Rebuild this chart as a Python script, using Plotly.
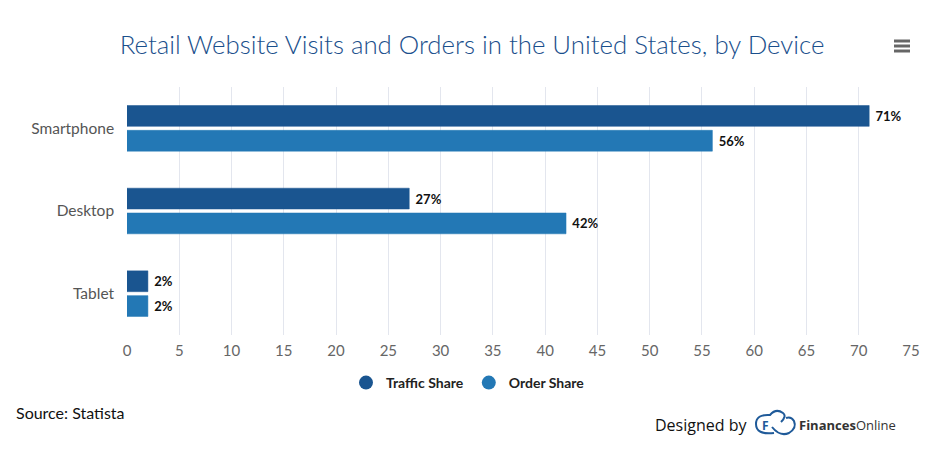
import plotly.graph_objects as go

devices = ["Smartphone", "Desktop", "Tablet"]
traffic_share = [71, 27, 2]
order_share = [56, 42, 2]
x_ticks = [0, 5, 10, 15, 20, 25, 30, 35, 40, 45, 50, 55, 60, 65, 70, 75]

dark_blue = "#1a5590"
light_blue = "#2378b5"
logo_blue = "#1f5a99"


def px(x):
    # pixel -> paper x
    return (x - 127) / 784


def py(y):
    # pixel -> paper y
    return (335 - y) / 248


fig = go.Figure()
for name, vals, col in [("Traffic Share", traffic_share, dark_blue),
                        ("Order Share", order_share, light_blue)]:
    fig.add_trace(go.Bar(
        y=devices, x=vals, name=name, orientation="h",
        marker=dict(color=col, line=dict(color=col, width=0.5)),
        texttemplate=" <b>%{x}%</b>", textposition="outside", constraintext="none",
        textfont=dict(family="Lato, Open Sans, sans-serif", size=13, color="#111"),
        cliponaxis=False, showlegend=False, hoverinfo="skip",
    ))
    # circle markers for the legend
    fig.add_trace(go.Scatter(
        x=[None], y=[None], mode="markers", name="<b>" + name + "</b>",
        marker=dict(symbol="circle", size=14, color=col),
    ))

fig.update_layout(
    width=944, height=452,
    margin=dict(l=127, r=33, t=87, b=117, autoexpand=False),
    paper_bgcolor="white", plot_bgcolor="white",
    barmode="group", bargap=0.40, bargroupgap=0.16,
    font=dict(family="Lato, Open Sans, sans-serif", color="#555"),
    title=dict(text="Retail Website Visits and Orders in the United States, by Device",
               x=0.5, xanchor="center", y=1 - 45 / 452, yanchor="middle",
               font=dict(family="Lato, Open Sans, sans-serif", size=25.8, weight=300,
                         color="#1a4f8c")),
    xaxis=dict(range=[0, 75], tickvals=x_ticks, showgrid=True, gridcolor="#e3e6ee",
               gridwidth=1, zeroline=False, showline=False, ticks="", automargin=False,
               ticklabelstandoff=5,
               tickfont=dict(family="Lato, Open Sans, sans-serif", size=15, color="#666")),
    yaxis=dict(autorange="reversed", showgrid=False, zeroline=False, ticks="",
               ticksuffix="   ", automargin=False,
               tickfont=dict(family="Lato, Open Sans, sans-serif", size=15.5, color="#555")),
    legend=dict(orientation="h", x=px(468), xanchor="center",
                yref="container", y=1 - 383 / 452, yanchor="middle",
                font=dict(family="Lato, Open Sans, sans-serif", size=14, color="#222"),
                traceorder="normal"),
    annotations=[
        dict(text="Source: Statista", xref="paper", yref="paper", x=px(14), y=py(412),
             xanchor="left", yanchor="middle", showarrow=False,
             font=dict(family="Lato, Open Sans, sans-serif", size=16, color="#111")),
        dict(text="Designed by", xref="paper", yref="paper", x=px(749), y=py(425),
             xanchor="right", yanchor="middle", showarrow=False,
             font=dict(family="Open Sans, sans-serif", size=16, color="#111")),
        dict(text="<b>Finances</b>Online", xref="paper", yref="paper", x=px(797), y=py(425),
             xanchor="left", yanchor="middle", showarrow=False,
             font=dict(family="Open Sans, sans-serif", size=13, color="#333")),
        dict(text="<b>F</b>", xref="paper", yref="paper", x=px(765), y=py(425),
             xanchor="center", yanchor="middle", showarrow=False,
             font=dict(family="Open Sans, sans-serif", size=12, color=logo_blue)),
    ],
    shapes=[
        # hamburger menu icon
        *[dict(type="line", xref="paper", yref="paper",
               x0=px(894), x1=px(910), y0=py(yy), y1=py(yy),
               line=dict(color="#666", width=3)) for yy in (41, 46, 51)],
        # logo: left ring and cloud-like outline
        dict(type="path", xref="paper", yref="paper",
             path="M %f %f Q %f %f %f %f Q %f %f %f %f Q %f %f %f %f Q %f %f %f %f" % (
                 px(774), py(433),
                 px(756), py(435), px(756), py(424),
                 px(756), py(414), px(770), py(415),
                 px(776), py(408), px(783), py(413),
                 px(787), py(416), px(781), py(422)),
             line=dict(color=logo_blue, width=2)),
        dict(type="path", xref="paper", yref="paper",
             path="M %f %f Q %f %f %f %f Q %f %f %f %f Q %f %f %f %f" % (
                 px(772), py(427),
                 px(780), py(437), px(789), py(433),
                 px(797), py(428), px(794), py(421),
                 px(791), py(416), px(786), py(418)),
             line=dict(color=logo_blue, width=2)),
    ],
)

fig.write_html("out.html", config={"displayModeBar": False},
               post_script="document.body.style.margin='0';")
